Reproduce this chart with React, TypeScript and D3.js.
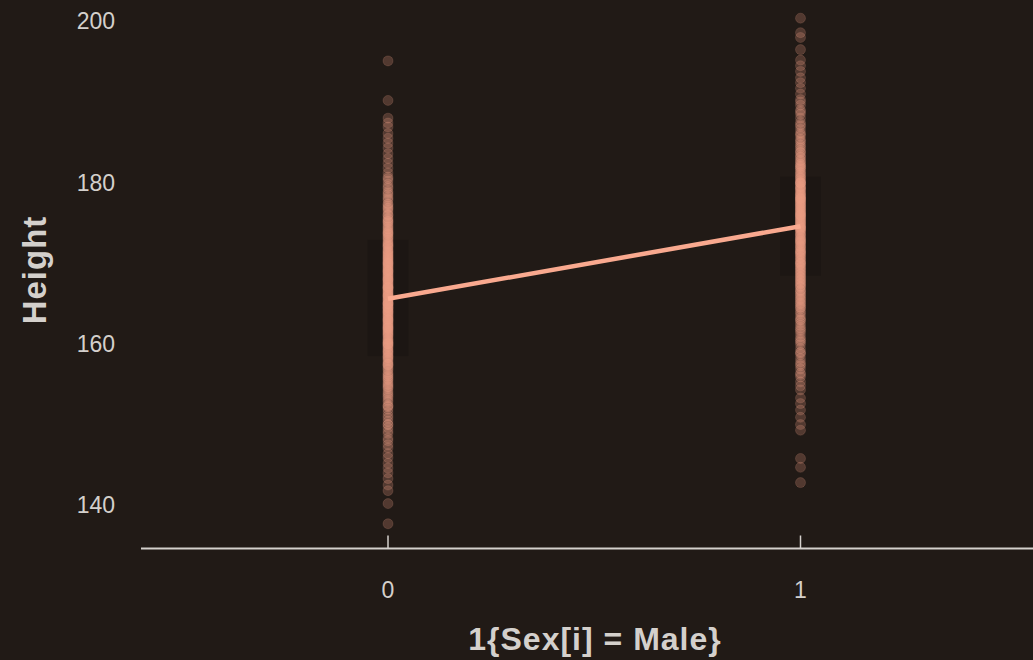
import React from "react";
import * as d3 from "d3";

// Observed heights (cm) by group: 0 = female, 1 = male
const femaleHeights: number[] = [
  137.7, 140.2, 141.8, 142.5, 143.3, 144.0, 144.6, 145.2, 145.9, 146.4, 147.1, 147.5, 148.0, 148.3,
  148.9, 149.2, 149.6, 150.0, 150.0, 150.4, 150.8, 151.1, 151.5, 151.9, 152.2, 152.4, 152.8, 153.0,
  153.3, 153.7, 153.9, 154.1, 154.4, 154.6, 154.9, 155.0, 155.2, 155.4, 155.6, 155.9, 156.0, 156.3,
  156.5, 156.8, 156.9, 157.1, 157.3, 157.5, 157.5, 157.7, 157.9, 158.0, 158.2, 158.4, 158.5, 158.8,
  159.0, 159.1, 159.3, 159.5, 159.7, 159.8, 160.0, 160.0, 160.0, 160.2, 160.4, 160.5, 160.7, 160.9,
  161.0, 161.2, 161.3, 161.5, 161.6, 161.8, 162.0, 162.0, 162.1, 162.3, 162.4, 162.6, 162.7, 162.9,
  163.0, 163.1, 163.3, 163.5, 163.6, 163.8, 163.9, 164.0, 164.2, 164.3, 164.5, 164.5, 164.6, 164.8,
  164.9, 165.0, 165.0, 165.1, 165.3, 165.4, 165.6, 165.7, 165.9, 166.0, 166.1, 166.3, 166.4, 166.6,
  166.7, 166.9, 167.0, 167.0, 167.2, 167.3, 167.5, 167.6, 167.8, 168.0, 168.1, 168.3, 168.4, 168.6,
  168.8, 168.9, 169.1, 169.2, 169.4, 169.6, 169.7, 169.9, 170.0, 170.1, 170.2, 170.4, 170.6, 170.8,
  170.9, 171.1, 171.3, 171.5, 171.7, 171.9, 172.0, 172.2, 172.4, 172.6, 172.9, 173.1, 173.3, 173.6,
  173.8, 174.0, 174.3, 174.5, 174.8, 175.0, 175.3, 175.6, 175.9, 176.1, 176.4, 176.8, 177.1, 177.4,
  177.8, 178.2, 178.5, 178.9, 179.3, 179.8, 180.2, 180.7, 181.2, 181.8, 182.4, 183.0, 183.6, 184.3,
  184.9, 185.5, 186.1, 186.9, 187.4, 188.0, 190.2, 195.1,
  158.3, 158.9, 159.6, 160.1, 160.6, 161.1, 161.4, 161.9, 162.2, 162.5, 162.8, 163.2, 163.4, 163.7,
  164.1, 164.4, 164.7, 165.2, 165.5, 165.8, 166.2, 166.5, 166.8, 167.1, 167.4, 167.7, 167.9, 168.2,
  168.5, 168.7, 169.0, 169.3, 169.5, 169.8, 170.3, 170.5, 170.7, 171.0, 171.4, 171.6, 172.1, 172.5,
  172.8, 173.2, 173.5, 173.9, 174.2, 174.6, 175.1, 175.5, 176.0, 176.6, 177.3, 178.0, 157.4, 158.6,
  159.2, 160.3, 161.7, 163.0, 164.0, 165.0, 166.0, 167.0, 168.0, 169.0, 170.0, 171.2, 172.3, 173.7,
  175.2, 176.9, 178.7, 179.5, 180.5, 156.2, 155.7, 154.7, 153.5, 152.3,
];

const maleHeights: number[] = [
  142.8, 144.7, 145.8, 149.3, 150.0, 150.9, 151.8, 152.6, 153.3, 154.3, 154.8, 155.3, 155.9, 156.4,
  156.9, 157.3, 157.8, 158.2, 158.7, 159.0, 159.4, 159.9, 160.2, 160.6, 160.9, 161.3, 161.6, 162.0,
  162.3, 162.6, 162.9, 163.2, 163.5, 163.8, 164.0, 164.3, 164.6, 164.8, 165.1, 165.3, 165.6, 165.8,
  166.0, 166.3, 166.5, 166.7, 167.0, 167.2, 167.4, 167.6, 167.8, 168.0, 168.2, 168.4, 168.6, 168.8,
  169.0, 169.2, 169.4, 169.6, 169.8, 170.0, 170.0, 170.2, 170.4, 170.6, 170.8, 171.0, 171.1, 171.3,
  171.5, 171.7, 171.9, 172.0, 172.2, 172.4, 172.5, 172.7, 172.9, 173.0, 173.2, 173.4, 173.5, 173.7,
  173.9, 174.0, 174.2, 174.3, 174.5, 174.7, 174.8, 175.0, 175.1, 175.3, 175.5, 175.6, 175.8, 176.0,
  176.1, 176.3, 176.5, 176.6, 176.8, 177.0, 177.2, 177.3, 177.5, 177.7, 177.9, 178.0, 178.2, 178.4,
  178.6, 178.8, 179.0, 179.2, 179.4, 179.6, 179.8, 180.0, 180.0, 180.3, 180.5, 180.7, 181.0, 181.2,
  181.5, 181.7, 182.0, 182.3, 182.5, 182.8, 183.1, 183.4, 183.7, 184.0, 184.3, 184.7, 185.0, 185.4,
  185.8, 186.2, 186.6, 187.0, 187.5, 188.0, 188.5, 189.0, 189.6, 190.3, 191.0, 191.7, 192.4, 193.0,
  193.8, 194.5, 195.2, 196.5, 198.0, 198.6, 200.4,
  164.5, 165.0, 165.5, 166.1, 166.6, 167.1, 167.5, 167.9, 168.3, 168.7, 169.1, 169.5, 169.9, 170.3,
  170.7, 171.2, 171.6, 172.1, 172.6, 173.1, 173.6, 174.1, 174.4, 174.6, 174.9, 175.2, 175.4, 175.7,
  175.9, 176.2, 176.4, 176.7, 176.9, 177.1, 177.4, 177.6, 177.8, 178.1, 178.3, 178.5, 178.7, 179.1,
  179.3, 179.5, 179.9, 180.2, 180.6, 180.9, 181.3, 181.8, 182.2, 182.7, 183.2, 183.8, 184.5, 185.2,
  186.0, 187.2, 188.8, 190.0, 171.4, 172.8, 174.4, 176.0, 178.0, 180.0, 182.0, 163.0, 161.8, 160.4,
  158.9, 157.5, 156.2,
];

// Fitted line: Height = intercept + slope * 1{Sex = Male}
const intercept = 165.6;
const slope = 9.0;

// Group mean and spread shown as shaded bands
const groupCodes = [0, 1];
const groupMeans = [165.7, 174.6];
const groupSpread = [7.2, 6.15];

const yTicks = [140, 160, 180, 200];
const xTicks = [0, 1];

const W = 1033;
const H = 660;
const BG = "#211a16";
const POINT = "#eea086";
const LINE = "#f9a98f";
const TEXT = "#d4d0cc";
const FONT = "'Liberation Sans', Arial, sans-serif";

export default function App() {
  const x = d3.scaleLinear().domain([0, 1]).range([388, 800.5]);
  const y = d3.scaleLinear().domain([140, 200]).range([505.2, 21.4]);
  const axisY = 548.5;
  const bandHalf = 20.5;

  const points = [
    ...femaleHeights.map((h) => ({ g: 0, h })),
    ...maleHeights.map((h) => ({ g: 1, h })),
  ];

  const line = d3
    .line<number>()
    .x((d) => x(d))
    .y((d) => y(intercept + slope * d));

  return (
    <svg
      width={W}
      height={H}
      style={{ position: "absolute", left: 0, top: 0, display: "block" }}
    >
      <rect x={0} y={0} width={W} height={H} fill={BG} />

      {groupCodes.map((g, i) => (
        <rect
          key={`band-${g}`}
          x={x(g) - bandHalf}
          width={bandHalf * 2}
          y={y(groupMeans[i] + groupSpread[i])}
          height={y(groupMeans[i] - groupSpread[i]) - y(groupMeans[i] + groupSpread[i])}
          fill="#000"
          fillOpacity={0.13}
        />
      ))}

      {points.map((p, i) => (
        <circle
          key={i}
          cx={x(p.g)}
          cy={y(p.h)}
          r={5}
          fill={POINT}
          fillOpacity={0.24}
          stroke={POINT}
          strokeOpacity={0.16}
          strokeWidth={1}
        />
      ))}

      <path
        d={line([0, 1]) ?? ""}
        fill="none"
        stroke={LINE}
        strokeWidth={4.5}
        strokeLinecap="butt"
      />

      {/* x axis */}
      <line x1={141} x2={W} y1={axisY} y2={axisY} stroke={TEXT} strokeWidth={2} />
      {xTicks.map((t) => (
        <g key={`xt-${t}`}>
          <line x1={x(t)} x2={x(t)} y1={axisY - 13} y2={axisY} stroke={TEXT} strokeWidth={1.5} />
          <text
            x={x(t)}
            y={590}
            textAnchor="middle"
            dominantBaseline="central"
            fill={TEXT}
            fontFamily={FONT}
            fontSize={23}
          >
            {t}
          </text>
        </g>
      ))}

      {/* y tick labels */}
      {yTicks.map((t) => (
        <text
          key={`yt-${t}`}
          x={115}
          y={y(t)}
          textAnchor="end"
          dominantBaseline="central"
          fill={TEXT}
          fontFamily={FONT}
          fontSize={23}
        >
          {t}
        </text>
      ))}

      <text
        x={595}
        y={650}
        textAnchor="middle"
        fill={TEXT}
        fontFamily={FONT}
        fontSize={32}
        fontWeight="bold"
        letterSpacing={1}
      >
        {"1{Sex[i] = Male}"}
      </text>

      <text
        transform="translate(46,270) rotate(-90)"
        textAnchor="middle"
        fill={TEXT}
        fontFamily={FONT}
        fontSize={33}
        fontWeight="bold"
        letterSpacing={1}
      >
        Height
      </text>
    </svg>
  );
}
